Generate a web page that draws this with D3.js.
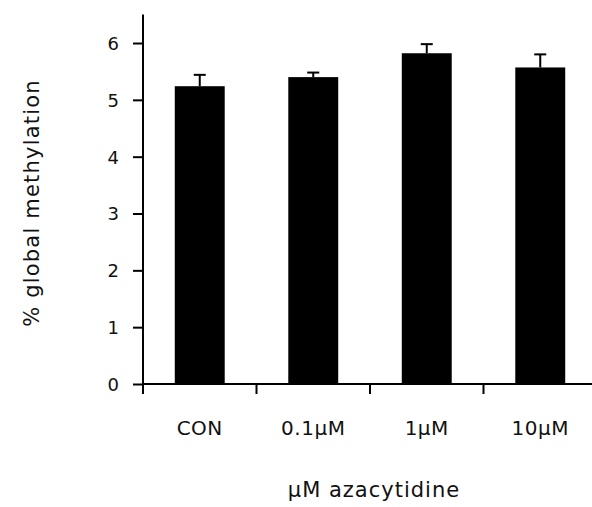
<!DOCTYPE html>
<html>
<head>
<meta charset="utf-8">
<script src="https://cdn.jsdelivr.net/npm/d3@7"></script>
<style>
  html, body { margin: 0; padding: 0; background: #fff; }
  svg { display: block; }
  text { font-family: "DejaVu Sans", Verdana, sans-serif; fill: #111; }
</style>
</head>
<body>
<svg id="chart" width="592" height="507"></svg>
<script>
// Global DNA methylation after azacytidine treatment
const categories = ["CON", "0.1\u00b5M", "1\u00b5M", "10\u00b5M"];
const meanValues = [5.24, 5.40, 5.82, 5.57];
const errorValues = [0.20, 0.08, 0.16, 0.23];
const yTicks = [0, 1, 2, 3, 4, 5, 6];
const yTitle = "% global methylation";
const xTitle = "\u00b5M azacytidine";

const svg = d3.select("#chart");

const x = d3.scaleBand()
  .domain(categories)
  .range([143, 597])
  .paddingInner(0.56)
  .paddingOuter(0.28);

const y = d3.scaleLinear()
  .domain([0, 6.5])
  .range([384, 14.6]);

const bandStep = x.step();
const rangeStart = x.range()[0];

// bars
svg.append("g").selectAll("rect")
  .data(categories)
  .join("rect")
  .attr("x", d => x(d))
  .attr("y", (d, i) => y(meanValues[i]))
  .attr("width", x.bandwidth())
  .attr("height", (d, i) => y(0) - y(meanValues[i]))
  .attr("fill", "#000");

// upper error bars
const eb = svg.append("g").attr("stroke", "#000").attr("stroke-width", 2);
categories.forEach((c, i) => {
  const cx = x(c) + x.bandwidth() / 2;
  eb.append("line")
    .attr("x1", cx).attr("x2", cx)
    .attr("y1", y(meanValues[i])).attr("y2", y(meanValues[i] + errorValues[i]));
  eb.append("line")
    .attr("x1", cx - 6).attr("x2", cx + 6)
    .attr("y1", y(meanValues[i] + errorValues[i])).attr("y2", y(meanValues[i] + errorValues[i]));
});

// y axis
const yAxis = svg.append("g")
  .attr("transform", `translate(${rangeStart},0)`)
  .call(d3.axisLeft(y).tickValues(yTicks).tickSize(10).tickPadding(14).tickFormat(d3.format("d")));
yAxis.select(".domain").attr("d", `M0,${y.range()[1]}V${y(0)}`).attr("stroke-width", 2);
yAxis.selectAll(".tick line").attr("stroke-width", 2);
yAxis.selectAll(".tick text").attr("font-size", 18).attr("dy", "0.36em")
  .style("font-family", "DejaVu Sans, Verdana, sans-serif");

// x axis baseline with tick marks between categories
const xAxisG = svg.append("g").attr("transform", `translate(0,${y(0)})`);
xAxisG.append("line")
  .attr("x1", rangeStart).attr("x2", 592)
  .attr("y1", 0).attr("y2", 0)
  .attr("stroke", "#000").attr("stroke-width", 2);
const boundaries = d3.range(categories.length).map(i => rangeStart + i * bandStep);
xAxisG.selectAll("line.sep")
  .data(boundaries)
  .join("line")
  .attr("class", "sep")
  .attr("x1", d => d).attr("x2", d => d)
  .attr("y1", 0).attr("y2", 10)
  .attr("stroke", "#000").attr("stroke-width", 2);

xAxisG.selectAll("text.cat")
  .data(categories)
  .join("text")
  .attr("class", "cat")
  .attr("x", d => x(d) + x.bandwidth() / 2)
  .attr("y", 51)
  .attr("text-anchor", "middle")
  .attr("font-size", 20)
  .attr("letter-spacing", 0.5)
  .text(d => d);

// axis titles
svg.append("text")
  .attr("x", 374)
  .attr("y", 497)
  .attr("text-anchor", "middle")
  .attr("font-size", 21)
  .attr("letter-spacing", 1)
  .text(xTitle);

svg.append("text")
  .attr("transform", "translate(39,203) rotate(-90)")
  .attr("text-anchor", "middle")
  .attr("font-size", 21)
  .attr("letter-spacing", 1.2)
  .text(yTitle);
</script>
</body>
</html>
